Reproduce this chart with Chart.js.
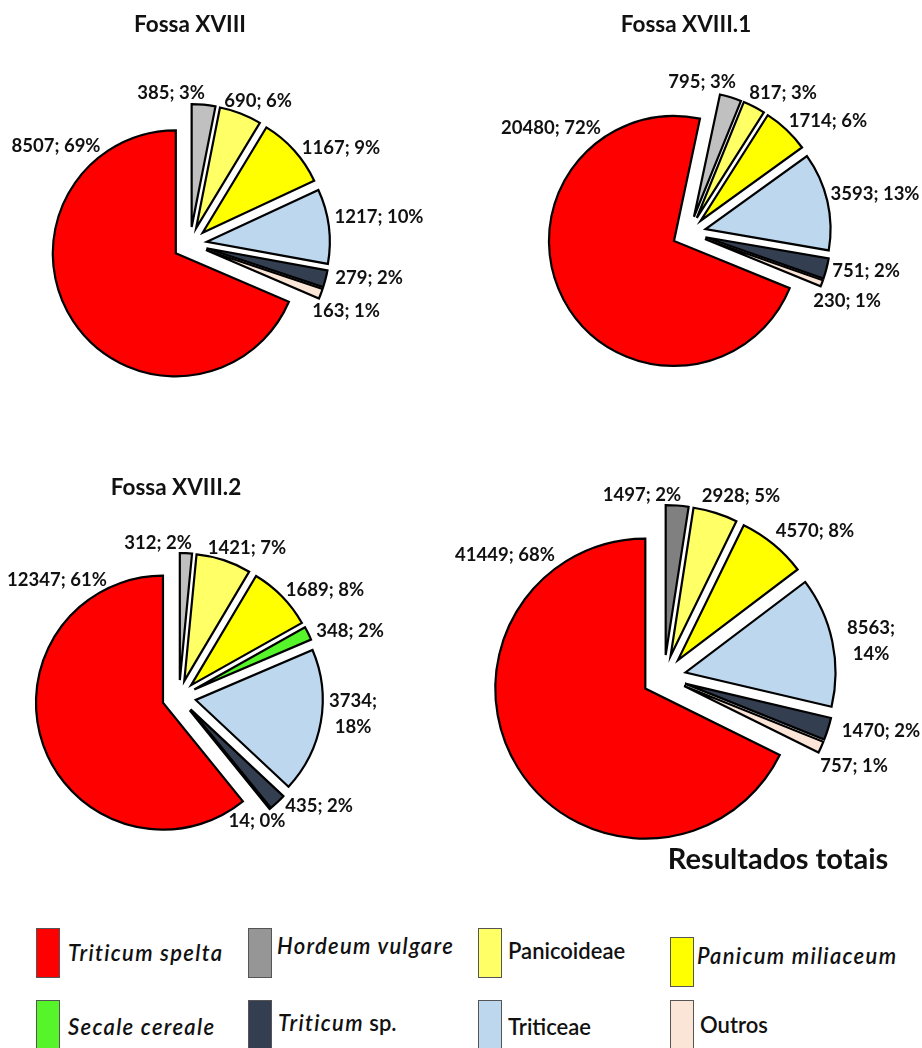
<!DOCTYPE html>
<html>
<head>
<meta charset="utf-8">
<title>Fossa XVIII – resultados carpológicos</title>
<script src="https://cdn.jsdelivr.net/npm/chart.js@4.4.1/dist/chart.umd.min.js"></script>
<style>
  html, body { margin: 0; padding: 0; background: #ffffff; }
  #page { position: relative; width: 922px; height: 1048px; overflow: hidden;
          font-family: Lato, "Open Sans", "DejaVu Sans", sans-serif; color: #111; }
  .pie { position: absolute; }
  .legend-item { position: absolute; height: 50px; display: flex; align-items: center; }
  .swatch { width: 22px; height: 48px; border: 1px solid #555; box-sizing: content-box; flex: none; }
  .legend-text { font-size: 22px; font-weight: 600; white-space: nowrap; line-height: 1; }
  .legend-text i { font-style: italic; letter-spacing: 1.3px; }
</style>
</head>
<body>
<div id="page">
  <div class="pie" style="left:0px;top:0px;"><canvas id="pieA" width="461" height="460"></canvas></div>
  <div class="pie" style="left:461px;top:0px;"><canvas id="pieB" width="461" height="460"></canvas></div>
  <div class="pie" style="left:0px;top:460px;"><canvas id="pieC" width="461" height="440"></canvas></div>
  <div class="pie" style="left:430px;top:460px;"><canvas id="pieD" width="492" height="440"></canvas></div>
  <div id="legend"></div>
</div>

<script>
// ---- Categories (in the clockwise order the slices are drawn, from 12 o'clock) ----
const sliceCategories = [
  'Hordeum vulgare', 'Panicoideae', 'Panicum miliaceum', 'Secale cereale',
  'Triticeae', 'Triticum sp.', 'Outros', 'Triticum spelta'
];

// ---- Counts per sample (null = category absent from that sample) ----
const fossaXVIII   = [385,  690,  1167, null, 1217, 279,  163, 8507];
const fossaXVIII1  = [795,  817,  1714, null, 3593, 751,  230, 20480];
const fossaXVIII2  = [312,  1421, 1689, 348,  3734, 435,  14,  12347];
const totais       = [1497, 2928, 4570, null, 8563, 1470, 757, 41449];

// ---- Percentages as printed on each slice label ----
const pctXVIII  = ['3%', '6%', '9%',  null, '10%', '2%', '1%', '69%'];
const pctXVIII1 = ['3%', '3%', '6%',  null, '13%', '2%', '1%', '72%'];
const pctXVIII2 = ['2%', '7%', '8%',  '2%', '18%', '2%', '0%', '61%'];
const pctTotais = ['2%', '5%', '8%',  null, '14%', '2%', '1%', '68%'];

// ---- Legend order ----
const legendCategories = [
  'Triticum spelta', 'Hordeum vulgare', 'Panicoideae', 'Panicum miliaceum',
  'Secale cereale', 'Triticum sp.', 'Triticeae', 'Outros'
];

// ---- Colours ----
const categoryColors = {
  'Triticum spelta':   '#ff0000',
  'Hordeum vulgare':   '#c0c0c0',
  'Panicoideae':       '#ffff66',
  'Panicum miliaceum': '#ffff00',
  'Secale cereale':    '#55f52a',
  'Triticum sp.':      '#333f50',
  'Triticeae':         '#bdd7ee',
  'Outros':            '#fbe5d6'
};
const legendColors = Object.assign({}, categoryColors, { 'Hordeum vulgare': '#969696' });
const totaisColors = Object.assign({}, categoryColors, { 'Hordeum vulgare': '#808080' });

// Pushes each slice outward along its mid-angle by `explode` pixels,
// keeping the slice radius unchanged.
Chart.defaults.elements.arc.explode = 0;
const baseArcDraw = Chart.ArcElement.prototype.draw;
Chart.ArcElement.prototype.draw = function (ctx) {
  const d = this.options.explode || 0;
  if (!d) { return baseArcDraw.call(this, ctx); }
  const mid = (this.startAngle + this.endAngle) / 2;
  ctx.save();
  ctx.translate(Math.cos(mid) * d, Math.sin(mid) * d);
  baseArcDraw.call(this, ctx);
  ctx.restore();
};

// Value labels and chart title, placed relative to the pie centre.
const pieText = {
  id: 'pieText',
  afterDatasetsDraw(chart, args, opts) {
    const meta = chart.getDatasetMeta(0);
    if (!meta.data.length) return;
    const cx = meta.data[0].x, cy = meta.data[0].y;
    const ctx = chart.ctx;
    ctx.save();
    ctx.fillStyle = '#111111';
    ctx.textAlign = 'center';
    ctx.textBaseline = 'alphabetic';
    const fs = opts.labelSize;
    ctx.font = 'bold ' + fs + 'px Lato, "Open Sans", sans-serif';
    meta.data.forEach((arc, i) => {
      const lines = opts.labels[i];
      const p = opts.labelPos[i];
      const lh = opts.lineHeight;
      const y0 = cy + p[1] - (lines.length - 1) * lh / 2 + 0.36 * fs;
      lines.forEach((t, k) => ctx.fillText(t, cx + p[0], y0 + k * lh));
    });
    if (opts.title) {
      ctx.font = 'bold ' + opts.title.size + 'px Lato, "Open Sans", sans-serif';
      ctx.fillText(opts.title.text, cx + opts.title.dx, cy + opts.title.dy);
    }
    ctx.restore();
  }
};

function makePie(canvasId, values, pcts, palette, cfg) {
  const idx = values.map((v, i) => i).filter(i => values[i] !== null);
  const labels = idx.map(i => sliceCategories[i]);
  const data = idx.map(i => values[i]);
  const colors = idx.map(i => palette[sliceCategories[i]]);
  const text = idx.map(i => {
    const s = values[i] + ';';
    return cfg.twoLine && cfg.twoLine.includes(sliceCategories[i]) ? [s, pcts[i]] : [s + ' ' + pcts[i]];
  });
  const pos = idx.map(i => cfg.labelPos[i]);

  const canvas = document.getElementById(canvasId);
  const W = canvas.width, H = canvas.height;
  const pad = { left: 0, right: 0, top: 0, bottom: 0 };
  if (cfg.center[0] < W / 2) pad.right = W - 2 * cfg.center[0]; else pad.left = 2 * cfg.center[0] - W;
  if (cfg.center[1] < H / 2) pad.bottom = H - 2 * cfg.center[1]; else pad.top = 2 * cfg.center[1] - H;

  return new Chart(canvas, {
    type: 'pie',
    data: {
      labels: labels,
      datasets: [{
        data: data,
        backgroundColor: colors,
        borderColor: '#000000',
        borderWidth: 2.2,
        borderJoinStyle: 'miter',
        explode: cfg.explode,
        radius: cfg.radius,
        rotation: cfg.rotation
      }]
    },
    options: {
      responsive: false,
      animation: false,
      events: [],
      devicePixelRatio: 1,
      layout: { padding: pad },
      plugins: {
        legend: { display: false },
        tooltip: { enabled: false },
        pieText: {
          labels: text, labelPos: pos, labelSize: 18.5, lineHeight: 26,
          title: cfg.title
        }
      }
    },
    plugins: [pieText]
  });
}

// Label anchors: offsets of each label centre from the pie centre, in slice order.
makePie('pieA', fossaXVIII, pctXVIII, categoryColors, {
  center: [190, 244], radius: 123, explode: 17, rotation: 0,
  labelPos: [[-19, -152], [68, -144], [151, -97], null, [189, -28], [179, 33], [156, 66], [-134, -99]],
  title: { text: 'Fossa XVIII', size: 22.5, dx: 0, dy: -212 }
});
makePie('pieB', fossaXVIII1, pctXVIII1, categoryColors, {
  center: [228, 233], radius: 125, explode: 17, rotation: 12,
  labelPos: [[13, -152], [94, -141], [139, -113], null, [186, -40], [177, 37], [158, 67], [-138, -106]],
  title: { text: 'Fossa XVIII.1', size: 22.5, dx: -3, dy: -201 }
});
makePie('pieC', fossaXVIII2, pctXVIII2, categoryColors, {
  center: [179, 237], radius: 127, explode: 17, rotation: 0, twoLine: ['Triticeae'],
  labelPos: [[-21, -155], [68, -150], [146, -108], [171, -67], [174, 16], [140, 108], [78, 123], [-122, -118]],
  title: { text: 'Fossa XVIII.2', size: 22.5, dx: -3, dy: -202 }
});
makePie('pieD', totais, pctTotais, totaisColors, {
  center: [234, 217], radius: 150, explode: 22, rotation: 0, twoLine: ['Triticeae'],
  labelPos: [[-22, -183], [77, -182], [151, -147], null, [207, -37], [217, 53], [190, 88], [-159, -123]],
  title: { text: 'Resultados totais', size: 29, dx: 114, dy: 192 }
});

// ---- Legend ----
const legendPlacement = [
  [36, 928, 0], [248, 928, -7], [478, 928, -2], [670, 937, -6],
  [36, 1000, 2], [248, 1000, -2], [478, 1000, 2], [670, 1000, 0]
];
const legendGap = [8, 5, 6, 3, 8, 6, 6, 6];
const italicNames = { 'Triticum spelta': 1, 'Hordeum vulgare': 1, 'Panicum miliaceum': 1, 'Secale cereale': 1 };
const legend = document.getElementById('legend');
legendCategories.forEach((name, i) => {
  const item = document.createElement('div');
  item.className = 'legend-item';
  item.style.left = legendPlacement[i][0] + 'px';
  item.style.top = legendPlacement[i][1] + 'px';
  const sw = document.createElement('div');
  sw.className = 'swatch';
  sw.style.background = legendColors[name];
  const tx = document.createElement('span');
  tx.className = 'legend-text';
  tx.style.marginLeft = legendGap[i] + 'px';
  tx.style.position = 'relative';
  tx.style.top = legendPlacement[i][2] + 'px';
  if (italicNames[name]) {
    tx.innerHTML = '<i>' + name + '</i>';
  } else if (name === 'Triticum sp.') {
    tx.innerHTML = '<i>Triticum</i> sp.';
  } else {
    tx.textContent = name;
  }
  item.appendChild(sw);
  item.appendChild(tx);
  legend.appendChild(item);
});
</script>
</body>
</html>
